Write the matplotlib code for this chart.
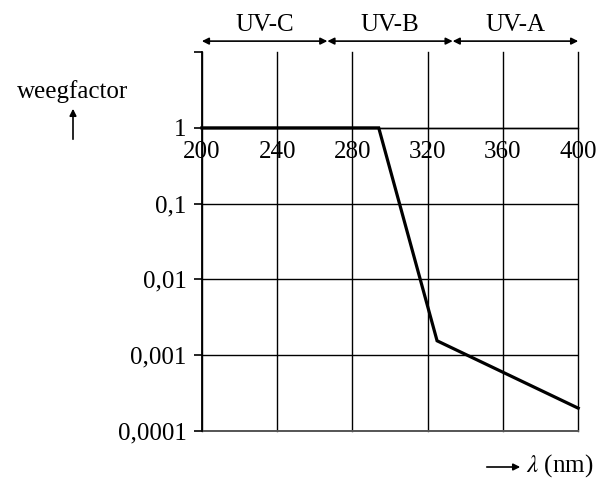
import matplotlib
matplotlib.use("Agg")
import matplotlib.pyplot as plt
import matplotlib.transforms as mtransforms

plt.rcParams['font.family'] = ['Liberation Serif', 'DejaVu Serif']
plt.rcParams['mathtext.fontset'] = 'stix'

# data
wavelength = [200, 294, 325, 400]
weight = [1, 1, 0.00155, 0.0002]

x_ticks = [200, 240, 280, 320, 360, 400]
y_ticks = [0.0001, 0.001, 0.01, 0.1, 1]
y_tick_labels = ["0,0001", "0,001", "0,01", "0,1", "1"]

band_names = ["UV-C", "UV-B", "UV-A"]
band_edges = [200, 266.7, 333.3, 400]

fig = plt.figure(figsize=(6.08, 4.87), dpi=100)
ax = fig.add_axes([0.332, 0.115, 0.619, 0.778])
ax.set_yscale('log')
ax.set_xlim(200, 400)
ax.set_ylim(1e-4, 10)

ax.plot(wavelength, weight, color='black', lw=2.3, solid_joinstyle='miter', zorder=5, clip_on=False)

# axes styling
for s in ['top', 'right']:
    ax.spines[s].set_visible(False)
ax.spines['bottom'].set_position(('data', 1))
ax.spines['bottom'].set_linewidth(1.0)
ax.spines['left'].set_linewidth(1.3)

ax.set_xticks(x_ticks)
ax.set_xticklabels([str(v) for v in x_ticks])
ax.set_yticks(y_ticks + [10])
ax.set_yticklabels(y_tick_labels + [""])
ax.yaxis.set_minor_locator(matplotlib.ticker.NullLocator())
ax.tick_params(axis='x', length=0, pad=9.5, labelsize=18)
ax.tick_params(axis='y', length=6, width=1.2, direction='out', pad=5, labelsize=18)

ax.grid(True, color='black', lw=1.0)
ylines = ax.yaxis.get_gridlines()
ylines[-1].set_visible(False)
for gl in ax.xaxis.get_gridlines():
    gl.set_clip_on(False)

# bottom line at 0.0001
ax.axhline(1e-4, color='#555555', lw=1.4, clip_on=False)

# UV bands
trans = mtransforms.blended_transform_factory(ax.transData, ax.transAxes)
for i, name in enumerate(band_names):
    a, b = band_edges[i], band_edges[i + 1]
    ax.annotate('', xy=(a, 1.029), xytext=(b, 1.029), xycoords=trans, textcoords=trans,
                arrowprops=dict(arrowstyle='<|-|>', color='black', lw=1.2,
                                shrinkA=0, shrinkB=0, mutation_scale=10))
    ax.text((a + b) / 2, 1.071, name, transform=trans, ha='center', va='center', fontsize=18)

# y axis label with arrow
fig.text(73 / 608, 1 - 92 / 487, "weegfactor", ha='center', va='center', fontsize=18)
fig.add_artist(matplotlib.patches.FancyArrowPatch((73 / 608, 1 - 142 / 487), (73 / 608, 1 - 106 / 487),
               transform=fig.transFigure, arrowstyle='-|>', mutation_scale=10, color='black', lw=1.2))

# x axis label with arrow
fig.add_artist(matplotlib.patches.FancyArrowPatch((484 / 608, 1 - 467 / 487), (523 / 608, 1 - 467 / 487),
               transform=fig.transFigure, arrowstyle='-|>', mutation_scale=10, color='black', lw=1.2))
fig.text(526 / 608, 1 - 466 / 487, r"$\lambda$ (nm)", ha='left', va='center', fontsize=18)

fig.savefig("out.png", dpi=100)
